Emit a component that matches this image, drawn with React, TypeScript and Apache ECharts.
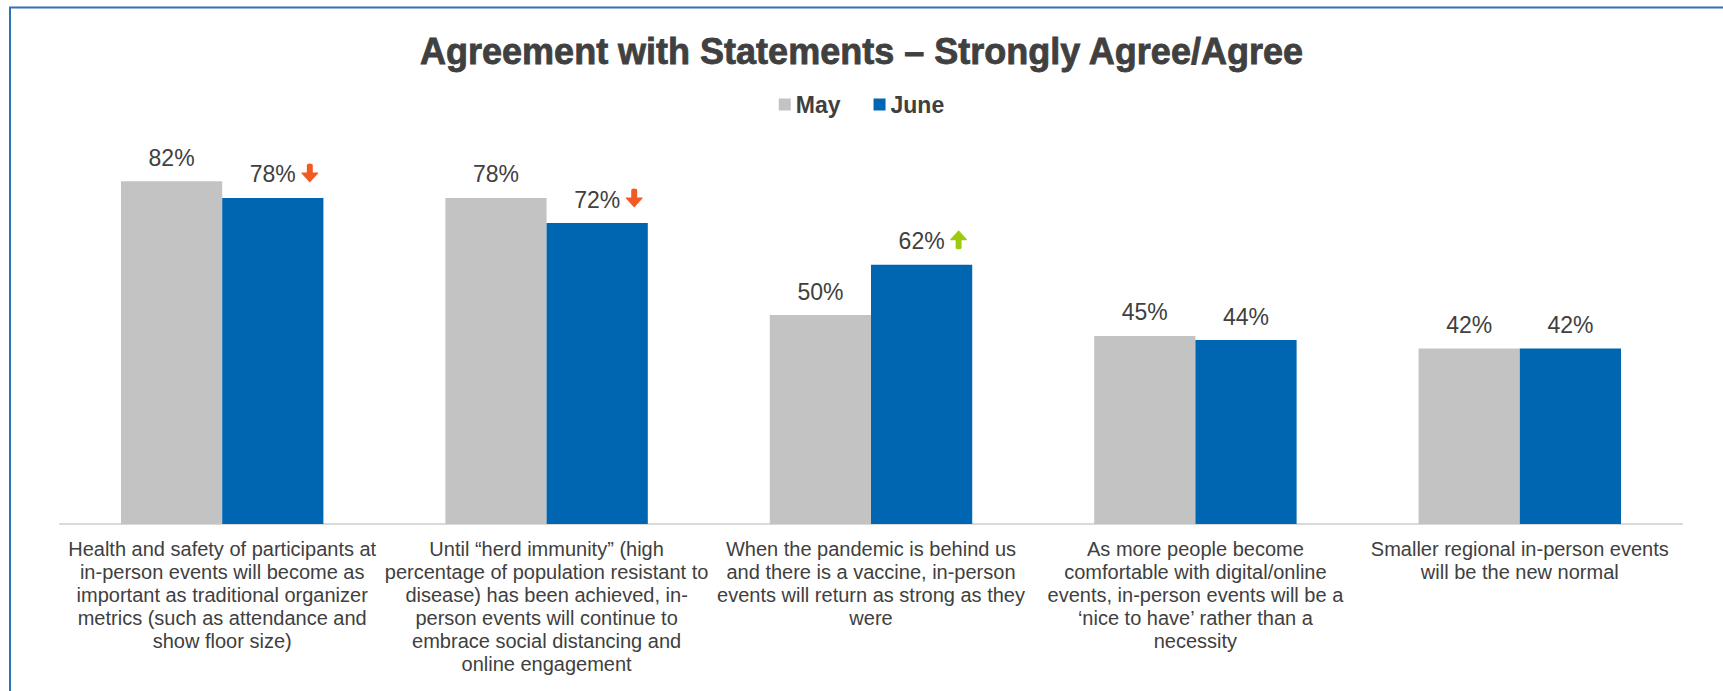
import React, { useEffect, useRef } from "react";
import * as echarts from "echarts";

const categories: string[] = [
  "Health and safety of participants at\nin-person events will become as\nimportant as traditional organizer\nmetrics (such as attendance and\nshow floor size)",
  "Until \u201cherd immunity\u201d (high\npercentage of population resistant to\ndisease) has been achieved, in-\nperson events will continue to\nembrace social distancing and\nonline engagement",
  "When the pandemic is behind us\nand there is a vaccine, in-person\nevents will return as strong as they\nwere",
  "As more people become\ncomfortable with digital/online\nevents, in-person events will be a\n\u2018nice to have\u2019 rather than a\nnecessity",
  "Smaller regional in-person events\nwill be the new normal",
];
const seriesNames: string[] = ["May", "June"];
const mayValues: number[] = [82, 78, 50, 45, 42];
const juneValues: number[] = [78, 72, 62, 44, 42];
// significant change markers for June vs May
const juneTrend: string[] = ["down", "down", "up", "", ""];

const TITLE = "Agreement with Statements \u2013 Strongly Agree/Agree";

const DOWN_PATH =
  "path://M6,1.5 Q6,0 9,0 Q12,0 12,1.5 L12,9 L17,9 Q18,9 17.3,10 L9,19 L0.7,10 Q0,9 1,9 L6,9 Z";
const UP_PATH =
  "path://M6,17.5 Q6,19 9,19 Q12,19 12,17.5 L12,10 L17,10 Q18,10 17.3,9 L9,0 L0.7,9 Q0,10 1,10 L6,10 Z";

const TEXT = "#404040";
const GRAY = "#C3C3C3";
const BLUE = "#0066B2";
const ORANGE = "#F15A24";
const GREEN = "#9BCB0C";

export default function App() {
  const ref = useRef<HTMLDivElement>(null);
  useEffect(() => {
    if (!ref.current) return;
    const chart = echarts.init(ref.current, undefined, { renderer: "svg" });
    const font = "'Liberation Sans', Arial, sans-serif";
    const markData = juneTrend
      .map((t, i) =>
        t
          ? {
              coord: [i, juneValues[i]],
              symbol: t === "down" ? DOWN_PATH : UP_PATH,
              itemStyle: { color: t === "down" ? ORANGE : GREEN },
            }
          : null
      )
      .filter((d) => d !== null);
    chart.setOption({
      animation: false,
      backgroundColor: "#ffffff",
      textStyle: { fontFamily: font },
      title: {
        text: TITLE,
        left: "center",
        top: 33,
        padding: 0,
        textStyle: {
          fontFamily: font,
          fontSize: 36,
          fontWeight: "bold",
          color: TEXT,
          textBorderColor: TEXT,
          textBorderWidth: 0.8,
        },
      },
      legend: {
        data: seriesNames,
        left: "center",
        top: 88,
        icon: "rect",
        itemWidth: 12,
        itemHeight: 12,
        itemGap: 33,
        textStyle: { fontFamily: font, fontSize: 23, fontWeight: "bold", color: TEXT },
        selectedMode: false,
      },
      grid: { left: 60, right: 41, top: 106, bottom: 167, containLabel: false },
      xAxis: {
        type: "category",
        data: categories,
        axisLine: { show: true, lineStyle: { color: "#D9D9D9", width: 2 } },
        axisTick: { show: false },
        axisLabel: {
          interval: 0,
          margin: 13,
          fontFamily: font,
          fontSize: 20,
          lineHeight: 23,
          color: TEXT,
          align: "center",
        },
      },
      yAxis: {
        type: "value",
        min: 0,
        max: 100,
        show: false,
        splitLine: { show: false },
      },
      series: [
        {
          name: seriesNames[0],
          type: "bar",
          data: mayValues,
          barWidth: "31.2%",
          barGap: "0%",
          itemStyle: { color: GRAY },
          label: {
            show: true,
            position: "top",
            distance: 12,
            formatter: "{c}%",
            fontFamily: font,
            fontSize: 23,
            color: TEXT,
          },
          emphasis: { disabled: true },
        },
        {
          name: seriesNames[1],
          type: "bar",
          data: juneValues,
          barWidth: "31.2%",
          barGap: "0%",
          itemStyle: { color: BLUE },
          label: {
            show: true,
            position: "top",
            distance: 12,
            formatter: "{c}%",
            fontFamily: font,
            fontSize: 23,
            color: TEXT,
          },
          emphasis: { disabled: true },
          markPoint: {
            symbolSize: [17, 19],
            symbolOffset: [37, -25],
            label: { show: false },
            emphasis: { disabled: true },
            data: markData,
          },
        },
      ],
      graphic: [
        {
          type: "rect",
          shape: { x: 10, y: 7.5, width: 1800, height: 800 },
          style: { fill: "none", stroke: "#2D73BA", lineWidth: 2 },
          silent: true,
        },
      ],
    });
    return () => chart.dispose();
  }, []);
  return (
    <div
      ref={ref}
      style={{ position: "absolute", left: 0, top: 0, width: 1723, height: 691 }}
    />
  );
}
